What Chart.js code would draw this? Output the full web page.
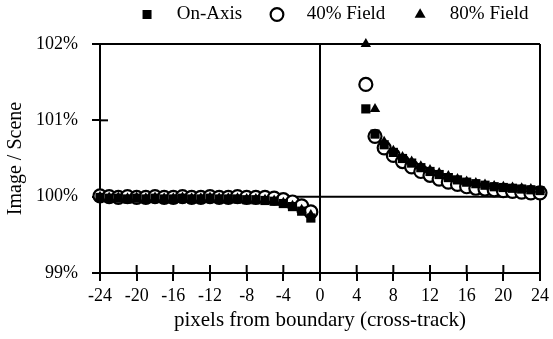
<!DOCTYPE html>
<html>
<head>
<meta charset="utf-8">
<script src="https://cdn.jsdelivr.net/npm/chart.js@4.4.1/dist/chart.umd.min.js"></script>
<style>
  html, body { margin: 0; background: #fff; }
  #wrap { width: 553px; height: 339px; }
</style>
</head>
<body>
<div id="wrap"><canvas id="chart"></canvas></div>
<script>
// pixel offsets from the boundary (no samples between 0 and 4)
const pixels = [-24, -23, -22, -21, -20, -19, -18, -17, -16, -15, -14, -13, -12, -11, -10, -9, -8, -7, -6, -5, -4, -3, -2, -1,
  5, 6, 7, 8, 9, 10, 11, 12, 13, 14, 15, 16, 17, 18, 19, 20, 21, 22, 23, 24];

// Image / Scene in percent
const onAxis = [99.99, 99.98, 99.98, 99.97, 99.98, 99.97, 99.98, 99.97, 99.97, 99.98, 99.97, 99.97, 99.98, 99.97, 99.97, 99.97, 99.96, 99.96, 99.95, 99.94, 99.91, 99.87, 99.81, 99.72,
  101.15, 100.82, 100.68, 100.58, 100.50, 100.44, 100.38, 100.33, 100.29, 100.25, 100.22, 100.19, 100.17, 100.15, 100.13, 100.12, 100.11, 100.10, 100.09, 100.08];
const field40 = [100.01, 100.0, 99.99, 100.0, 99.99, 99.99, 100.0, 99.99, 99.99, 100.0, 99.99, 99.99, 100.0, 99.99, 99.99, 100.0, 99.99, 99.99, 99.99, 99.98, 99.96, 99.93, 99.88, 99.80,
  101.47, 100.79, 100.64, 100.54, 100.46, 100.39, 100.33, 100.28, 100.23, 100.19, 100.16, 100.13, 100.11, 100.10, 100.09, 100.08, 100.07, 100.06, 100.05, 100.05];
const field80 = [100.0, 99.99, 99.99, 99.98, 99.99, 99.98, 99.99, 99.98, 99.98, 99.99, 99.98, 99.98, 99.99, 99.98, 99.98, 99.98, 99.97, 99.97, 99.96, 99.95, 99.92, 99.88, 99.83, 99.76,
  102.0, 101.15, 100.72, 100.60, 100.52, 100.46, 100.40, 100.35, 100.31, 100.27, 100.23, 100.20, 100.18, 100.16, 100.14, 100.13, 100.12, 100.11, 100.10, 100.09];

const xTicks = [-24, -20, -16, -12, -8, -4, 0, 4, 8, 12, 16, 20, 24];
const yTicks = [99, 100, 101, 102];

const toPoints = (vals) => pixels.map((x, i) => ({ x, y: vals[i] }));

Chart.defaults.font.family = '"Liberation Serif", "DejaVu Serif", serif';
Chart.defaults.color = '#000';

// frame, zero lines and the inner half of each tick mark
const framePlugin = {
  id: 'frame',
  beforeDatasetsDraw(chart) {
    const { ctx, chartArea: a, scales } = chart;
    const x = scales.x, y = scales.y;
    const line = (x1, y1, x2, y2) => { ctx.beginPath(); ctx.moveTo(x1, y1); ctx.lineTo(x2, y2); ctx.stroke(); };
    ctx.save();
    ctx.strokeStyle = '#000';
    ctx.lineWidth = 2;
    line(a.left, a.top, a.right, a.top);
    line(a.right, a.top, a.right, a.bottom);
    const x0 = x.getPixelForValue(0);
    const y0 = y.getPixelForValue(100);
    line(x0, a.top, x0, a.bottom);
    line(a.left, y0, a.right, y0);
    y.ticks.forEach(t => {
      const py = y.getPixelForValue(t.value);
      line(a.left, py, a.left + 8, py);
    });
    x.ticks.forEach(t => {
      const px = x.getPixelForValue(t.value);
      line(px, a.bottom, px, a.bottom - 8);
    });
    ctx.restore();
  }
};

new Chart(document.getElementById('chart'), {
  type: 'scatter',
  data: {
    datasets: [
      {
        label: 'On-Axis',
        data: toPoints(onAxis),
        pointStyle: 'rect',
        pointRadius: 6.5,
        backgroundColor: '#000',
        borderColor: '#000',
        borderWidth: 0,
        clip: false,
        order: 1
      },
      {
        label: '40% Field',
        data: toPoints(field40),
        pointStyle: 'circle',
        pointRadius: 6.5,
        backgroundColor: '#fff',
        borderColor: '#000',
        borderWidth: 2.2,
        clip: false,
        order: 2
      },
      {
        label: '80% Field',
        data: toPoints(field80),
        pointStyle: 'triangle',
        pointRadius: 6,
        backgroundColor: '#000',
        borderColor: '#000',
        borderWidth: 0,
        clip: false,
        order: 0
      }
    ]
  },
  options: {
    responsive: true,
    maintainAspectRatio: false,
    animation: false,
    events: [],
    layout: { padding: { left: 0, right: 10, top: 0, bottom: 3 } },
    plugins: {
      tooltip: { enabled: false },
      legend: {
        position: 'top',
        align: 'end',
        labels: {
          usePointStyle: true,
          boxWidth: 12,
          boxHeight: 9,
          padding: 5,
          color: '#000',
          font: { size: 19 },
          sort: (a, b) => a.datasetIndex - b.datasetIndex,
          generateLabels(chart) {
            const items = Chart.defaults.plugins.legend.labels.generateLabels(chart);
            return items.map((it, i) => {
              it.text = '   ' + it.text + (it.datasetIndex === 2 ? '  ' : '     ');
              return it;
            });
          }
        }
      }
    },
    scales: {
      x: {
        type: 'linear',
        min: -24,
        max: 24,
        afterBuildTicks: s => { s.ticks = xTicks.map(v => ({ value: v })); },
        afterFit: s => { s.height = 63; },
        border: { color: '#000', width: 2 },
        grid: { drawOnChartArea: false, color: '#000', lineWidth: 2, tickLength: 8 },
        ticks: { font: { size: 18 }, padding: 4, maxRotation: 0 },
        title: { display: true, text: 'pixels from boundary (cross-track)', font: { size: 21 }, padding: 3 }
      },
      x2: {
        type: 'linear',
        position: 'top',
        afterFit: s => { s.height = 10; },
        ticks: { display: false },
        grid: { display: false },
        border: { display: false }
      },
      y: {
        type: 'linear',
        min: 99,
        max: 102,
        afterBuildTicks: s => { s.ticks = yTicks.map(v => ({ value: v })); },
        afterFit: s => { s.width = 100; },
        border: { color: '#000', width: 2 },
        grid: { drawOnChartArea: false, color: '#000', lineWidth: 2, tickLength: 8 },
        ticks: { font: { size: 18 }, padding: 14, callback: v => v + '%' },
        title: { display: true, text: 'Image / Scene', font: { size: 20 }, padding: 4 }
      }
    }
  },
  plugins: [framePlugin]
});
</script>
</body>
</html>
